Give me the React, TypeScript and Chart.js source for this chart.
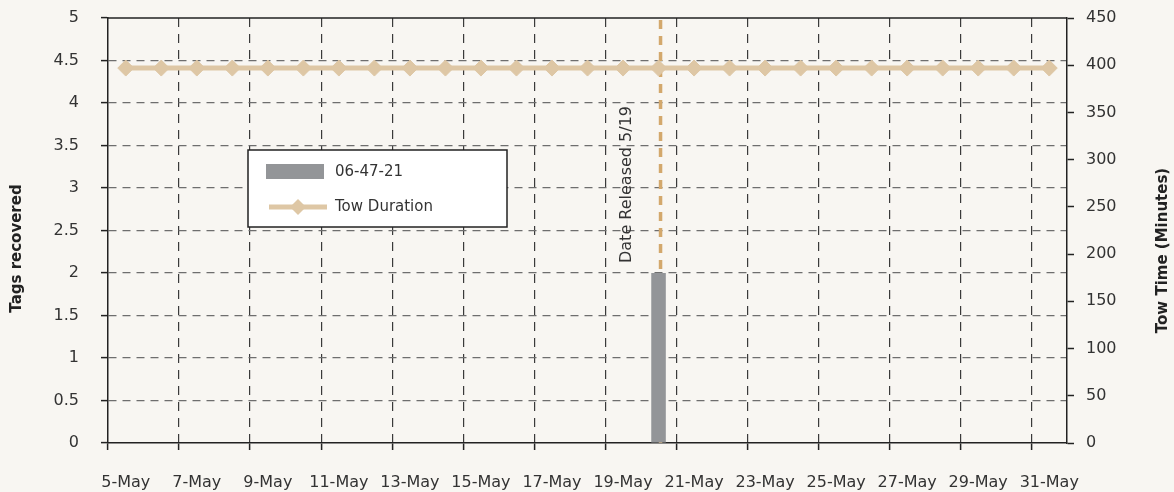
import React, { useEffect, useRef } from 'react';
import { Chart, registerables } from 'chart.js';

Chart.register(...registerables);

// ---------- data ----------
const dates: string[] = [
  '5-May', '6-May', '7-May', '8-May', '9-May', '10-May', '11-May', '12-May', '13-May',
  '14-May', '15-May', '16-May', '17-May', '18-May', '19-May', '20-May', '21-May', '22-May',
  '23-May', '24-May', '25-May', '26-May', '27-May', '28-May', '29-May', '30-May', '31-May',
];

// Tags recovered for tag code 06-47-21 (left axis)
const tagsRecovered: (number | null)[] = [
  null, null, null, null, null, null, null, null, null,
  null, null, null, null, null, null, 2, null, null,
  null, null, null, null, null, null, null, null, null,
];

// Tow duration in minutes (right axis)
const towDuration: number[] = [
  397, 397, 397, 397, 397, 397, 397, 397, 397,
  397, 397, 397, 397, 397, 397, 397, 397, 397,
  397, 397, 397, 397, 397, 397, 397, 397, 397,
];

const tagLabel = '06-47-21';
const towLabel = 'Tow Duration';
const leftAxisTitle = 'Tags recovered';
const rightAxisTitle = 'Tow Time (Minutes)';
const releaseText = 'Date Released 5/19';
const releaseLineDate = '20-May';
const releaseTextDate = '19-May';

const leftRange = { min: 0, max: 5, step: 0.5 };
const rightRange = { min: 0, max: 450, step: 50 };

// ---------- styles ----------
const FONT = "'DejaVu Sans', sans-serif";
const BG = '#F8F6F2';
const AXIS = '#222222';
const TEXT = '#333333';
const BAR = '#939598';
const TAN = '#DEC7A5';
const RELEASE = '#D3A86C';
const CLEAR = 'rgba(0,0,0,0)';

const bgPlugin = {
  id: 'bg',
  beforeDraw(chart: any) {
    const { ctx, width, height } = chart;
    ctx.save();
    ctx.fillStyle = BG;
    ctx.fillRect(0, 0, width, height);
    ctx.restore();
  },
};

const releasePlugin = {
  id: 'release',
  beforeDatasetsDraw(chart: any) {
    const { ctx, chartArea, scales } = chart;
    const x = scales.x.getPixelForValue(dates.indexOf(releaseLineDate)) + 2;
    ctx.save();
    ctx.strokeStyle = RELEASE;
    ctx.lineWidth = 3.5;
    ctx.setLineDash([9, 7]);
    ctx.beginPath();
    ctx.moveTo(x, chartArea.top + 2);
    ctx.lineTo(x, chartArea.bottom);
    ctx.stroke();
    ctx.setLineDash([]);
    const tx = scales.x.getPixelForValue(dates.indexOf(releaseTextDate)) + 4;
    const ty = scales.y.getPixelForValue(2) - 10;
    ctx.translate(tx, ty);
    ctx.rotate(-Math.PI / 2);
    ctx.font = `16px ${FONT}`;
    ctx.fillStyle = TEXT;
    ctx.textAlign = 'left';
    ctx.textBaseline = 'middle';
    ctx.fillText(releaseText, 0, 0);
    ctx.restore();
  },
};

const titlePlugin = {
  id: 'axisTitles',
  afterDraw(chart: any) {
    const { ctx, chartArea, width } = chart;
    const cy = (chartArea.top + chartArea.bottom) / 2 + 18;
    ctx.save();
    ctx.font = `bold 15px ${FONT}`;
    ctx.fillStyle = AXIS;
    ctx.textAlign = 'center';
    ctx.textBaseline = 'middle';
    ctx.save();
    ctx.translate(17, cy);
    ctx.rotate(-Math.PI / 2);
    ctx.fillText(leftAxisTitle, 0, 0);
    ctx.restore();
    ctx.save();
    ctx.translate(width - 11, cy + 2);
    ctx.rotate(-Math.PI / 2);
    ctx.fillText(rightAxisTitle, 0, 0);
    ctx.restore();
    ctx.restore();
  },
};

const framePlugin = {
  id: 'frame',
  afterDraw(chart: any) {
    const { ctx, chartArea } = chart;
    ctx.save();
    ctx.strokeStyle = AXIS;
    ctx.lineWidth = 1.5;
    ctx.beginPath();
    ctx.moveTo(chartArea.left, chartArea.top);
    ctx.lineTo(chartArea.right, chartArea.top);
    ctx.stroke();

    // legend box
    const ds0 = chart.data.datasets[0];
    const ds1 = chart.data.datasets[1];
    const x0 = chartArea.left + 140;
    const y0 = chartArea.top + 132;
    const w = 259;
    const h = 77;
    ctx.fillStyle = '#FFFFFF';
    ctx.fillRect(x0, y0, w, h);
    ctx.strokeStyle = AXIS;
    ctx.lineWidth = 1.5;
    ctx.strokeRect(x0, y0, w, h);

    ctx.fillStyle = ds0.backgroundColor;
    ctx.fillRect(x0 + 18, y0 + 14, 58, 15);
    ctx.font = `15px ${FONT}`;
    ctx.fillStyle = TEXT;
    ctx.textAlign = 'left';
    ctx.textBaseline = 'middle';
    ctx.fillText(ds0.label, x0 + 87, y0 + 22);

    const ly = y0 + 57;
    ctx.strokeStyle = ds1.borderColor;
    ctx.lineWidth = 5;
    ctx.beginPath();
    ctx.moveTo(x0 + 21, ly);
    ctx.lineTo(x0 + 79, ly);
    ctx.stroke();
    const cx = x0 + 50;
    const r = 8;
    ctx.fillStyle = ds1.pointBackgroundColor;
    ctx.beginPath();
    ctx.moveTo(cx, ly - r);
    ctx.lineTo(cx + r, ly);
    ctx.lineTo(cx, ly + r);
    ctx.lineTo(cx - r, ly);
    ctx.closePath();
    ctx.fill();
    ctx.fillStyle = TEXT;
    ctx.fillText(ds1.label, x0 + 87, ly);
    ctx.restore();
  },
};

export default function App() {
  const canvasRef = useRef<HTMLCanvasElement | null>(null);

  useEffect(() => {
    document.body.style.margin = '0';
    document.body.style.background = BG;
    const canvas = canvasRef.current;
    if (!canvas) return;
    const n = dates.length;

    const fitVertical = (w: number) => (s: any) => {
      s.width = w;
      s.paddingTop = 0;
      s.paddingBottom = 0;
    };

    const chart = new Chart(canvas, {
      type: 'bar',
      data: {
        labels: dates,
        datasets: [
          {
            type: 'bar',
            label: tagLabel,
            data: tagsRecovered,
            backgroundColor: BAR,
            borderWidth: 0,
            yAxisID: 'y',
            categoryPercentage: 1,
            barPercentage: 0.41,
            order: 2,
          } as any,
          {
            type: 'line',
            label: towLabel,
            data: towDuration,
            borderColor: TAN,
            backgroundColor: TAN,
            pointBackgroundColor: TAN,
            pointBorderColor: TAN,
            borderWidth: 5,
            pointStyle: 'rectRot',
            pointRadius: 8,
            pointBorderWidth: 1,
            tension: 0,
            yAxisID: 'y1',
            order: 1,
          } as any,
        ],
      },
      options: {
        animation: false,
        responsive: true,
        maintainAspectRatio: false,
        layout: { padding: { top: 18, left: 0, right: 0, bottom: 0 } },
        plugins: {
          legend: { display: false },
          tooltip: { enabled: false },
        },
        scales: {
          x: {
            type: 'category',
            offset: true,
            grid: {
              offset: true,
              drawOnChartArea: true,
              color: (c: any) => (c.index % 2 === 0 && c.index > 0 && c.index < n ? '#3A3A3A' : CLEAR),
              tickColor: (c: any) => (c.index % 2 === 0 || c.index === n ? AXIS : CLEAR),
              lineWidth: 1.2,
              tickLength: 7,
              tickWidth: 1.5,
            },
            border: { display: true, color: AXIS, width: 1.5, dash: [9, 7] },
            ticks: {
              autoSkip: false,
              maxRotation: 0,
              padding: 23,
              color: TEXT,
              font: { family: FONT, size: 16 },
              callback: (_v: any, i: number) => (i % 2 === 0 ? dates[i] : ''),
            },
            afterFit: (s: any) => { s.height = 49; s.paddingLeft = 0; s.paddingRight = 0; },
          },
          y: {
            type: 'linear',
            position: 'left',
            min: leftRange.min,
            max: leftRange.max,
            ticks: {
              stepSize: leftRange.step,
              padding: 22,
              color: TEXT,
              font: { family: FONT, size: 16 },
              callback: (v: any) => String(Number(v)),
            },
            grid: {
              color: (c: any) => (c.tick && c.tick.value > leftRange.min && c.tick.value < leftRange.max ? '#6E6E6E' : CLEAR),
              tickColor: AXIS,
              lineWidth: 1.2,
              tickLength: 7,
              tickWidth: 1.5,
            },
            border: { display: true, color: AXIS, width: 1.5, dash: [8, 6] },
            afterFit: fitVertical(108),
          },
          y1: {
            type: 'linear',
            position: 'right',
            min: rightRange.min,
            max: rightRange.max,
            ticks: {
              stepSize: rightRange.step,
              padding: 12,
              color: TEXT,
              font: { family: FONT, size: 16 },
              callback: (v: any) => String(Number(v)),
            },
            grid: {
              drawOnChartArea: false,
              tickColor: AXIS,
              tickLength: 7,
              tickWidth: 1.5,
            },
            border: { display: true, color: AXIS, width: 1.5 },
            afterFit: fitVertical(107),
          },
        },
      } as any,
      plugins: [bgPlugin, releasePlugin, framePlugin, titlePlugin],
    });

    return () => chart.destroy();
  }, []);

  return (
    <div style={{ position: 'relative', width: '1174px', height: '492px' }}>
      <canvas ref={canvasRef} />
    </div>
  );
}
